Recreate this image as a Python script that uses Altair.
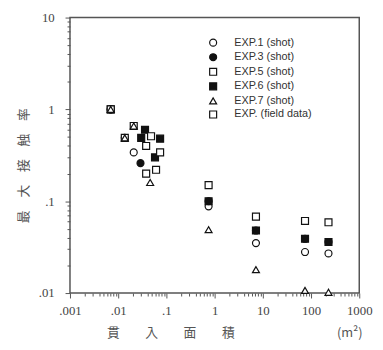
import altair as alt
import pandas as pd

# ---------------- data ----------------
SERIES = ["EXP.1 (shot)", "EXP.3 (shot)", "EXP.5 (shot)", "EXP.6 (shot)",
          "EXP.7 (shot)", "EXP. (field data)"]

EXP1_X = [0.007, 0.021, 0.75, 7.2, 75, 230]
EXP1_Y = [1.0, 0.34, 0.088, 0.035, 0.028, 0.027]

EXP3_X = [0.007, 0.0137, 0.029, 0.75, 7.2, 75, 230]
EXP3_Y = [1.0, 0.49, 0.26, 0.10, 0.048, 0.039, 0.036]

EXP5_X = [0.007, 0.021, 0.0137, 0.048, 0.75, 7.2, 75, 230]
EXP5_Y = [1.0, 0.66, 0.49, 0.51, 0.15, 0.068, 0.061, 0.059]

EXP6_X = [0.007, 0.036, 0.030, 0.074, 0.058, 0.75, 7.2, 75, 230]
EXP6_Y = [1.0, 0.60, 0.49, 0.48, 0.30, 0.10, 0.048, 0.039, 0.036]

FIELD_X = [0.038, 0.074, 0.038, 0.061]
FIELD_Y = [0.40, 0.34, 0.20, 0.22]

EXP7_X = [0.007, 0.021, 0.0137, 0.046, 0.75, 7.2, 75, 230]
EXP7_Y = [1.0, 0.66, 0.49, 0.16, 0.049, 0.018, 0.0107, 0.0102]

X_TICK_VALUES = [0.001, 0.01, 0.1, 1, 10, 100, 1000]
X_TICK_LABELS = [".001", ".01", ".1", "1", "10", "100", "1000"]
Y_TICK_VALUES = [0.01, 0.1, 1, 10]
Y_TICK_LABELS = [".01", ".1", "1", "10"]

# marker styling per series
SHAPES = ["circle", "circle", "square", "square", "triangle-up", "square"]
FILLS = ["white", "#111111", "white", "#111111", "white", "white"]
STROKES = ["#111111"] * 6
SIZES = [50, 50, 42, 60, 80, 180]

# drawing order (later rows drawn on top)
DRAW = [
    (SERIES[0], EXP1_X, EXP1_Y),
    (SERIES[1], EXP3_X, EXP3_Y),
    (SERIES[3], EXP6_X, EXP6_Y),
    (SERIES[2], EXP5_X, EXP5_Y),
    (SERIES[5], FIELD_X, FIELD_Y),
    (SERIES[4], EXP7_X, EXP7_Y),
]

rows = []
for name, xs, ys in DRAW:
    for x, y in zip(xs, ys):
        rows.append({"series": name, "area": x, "rate": y})
df = pd.DataFrame(rows)


def all_ticks(lo_exp, hi_exp):
    vals = []
    for e in range(lo_exp, hi_exp):
        for m in range(1, 10):
            vals.append(round(m * 10.0 ** e, 10))
    vals.append(round(10.0 ** hi_exp, 10))
    return vals


def label_expr(values, labels):
    expr = "''"
    for v, lab in reversed(list(zip(values, labels))):
        expr = f"abs(datum.value - {v}) < {v} * 1e-6 ? '{lab}' : ({expr})"
    return expr


MAJOR_TEST = "abs(log(datum.value)/LN10 - round(log(datum.value)/LN10)) < 1e-6"
tick_size = {"condition": {"test": MAJOR_TEST, "value": 5}, "value": 3}

legend = alt.Legend(
    title=None, orient="none", legendX=140, legendY=20,
    labelFont="Liberation Sans", labelFontSize=11, labelColor="#333333",
    symbolStrokeWidth=1.2,
    rowPadding=1.8, labelOffset=16, padding=0,
)

x_axis = alt.Axis(
    values=all_ticks(-3, 3), labelExpr=label_expr(X_TICK_VALUES, X_TICK_LABELS),
    tickSize=tick_size, tickColor="#555555", tickWidth=1, domain=False, grid=False,
    labelFont="Liberation Serif", labelFontSize=13, labelColor="#444444",
    labelPadding=7, labelFlush=False, labelOverlap=False,
    title="貫　　入　　面　　積　　　　　　　　(m²)",
    titleFont="Noto Sans CJK JP", titleFontSize=13, titleFontWeight="normal",
    titleColor="#555555", titleX=37, titleY=40, titleAlign="left",
    titleBaseline="middle",
)

y_axis = alt.Axis(
    values=all_ticks(-2, 1), labelExpr=label_expr(Y_TICK_VALUES, Y_TICK_LABELS),
    tickSize=tick_size, tickColor="#555555", tickWidth=1, domain=False, grid=False,
    labelFont="Liberation Serif", labelFontSize=13, labelColor="#444444",
    labelPadding=11, labelFlush=False, labelOverlap=False,
    title="最　大　接　触　率",
    titleFont="Noto Sans CJK JP", titleFontSize=13, titleFontWeight="normal",
    titleColor="#555555", titleX=-47, titleY=150, titleAlign="center",
    titleBaseline="middle", titleAngle=270,
)

chart = alt.Chart(df).mark_point(
    filled=True, strokeWidth=1.2, opacity=1
).encode(
    x=alt.X("area:Q", scale=alt.Scale(type="log", domain=[0.001, 1000], nice=False), axis=x_axis),
    y=alt.Y("rate:Q", scale=alt.Scale(type="log", domain=[0.01, 10], nice=False), axis=y_axis),
    shape=alt.Shape("series:N", sort=SERIES, scale=alt.Scale(domain=SERIES, range=SHAPES), legend=legend),
    fill=alt.Fill("series:N", sort=SERIES, scale=alt.Scale(domain=SERIES, range=FILLS), legend=legend),
    stroke=alt.Stroke("series:N", sort=SERIES, scale=alt.Scale(domain=SERIES, range=STROKES), legend=legend),
    size=alt.Size("series:N", sort=SERIES, scale=alt.Scale(domain=SERIES, range=SIZES), legend=legend),
).properties(
    width=294, height=280,
    autosize=alt.AutoSizeParams(type="none"),
    padding={"left": 63, "top": 7, "right": 16, "bottom": 47},
    background="white",
).configure_view(stroke="#555555", strokeWidth=1.5)

chart.save("out.html", embed_options={"renderer": "svg", "actions": False})
